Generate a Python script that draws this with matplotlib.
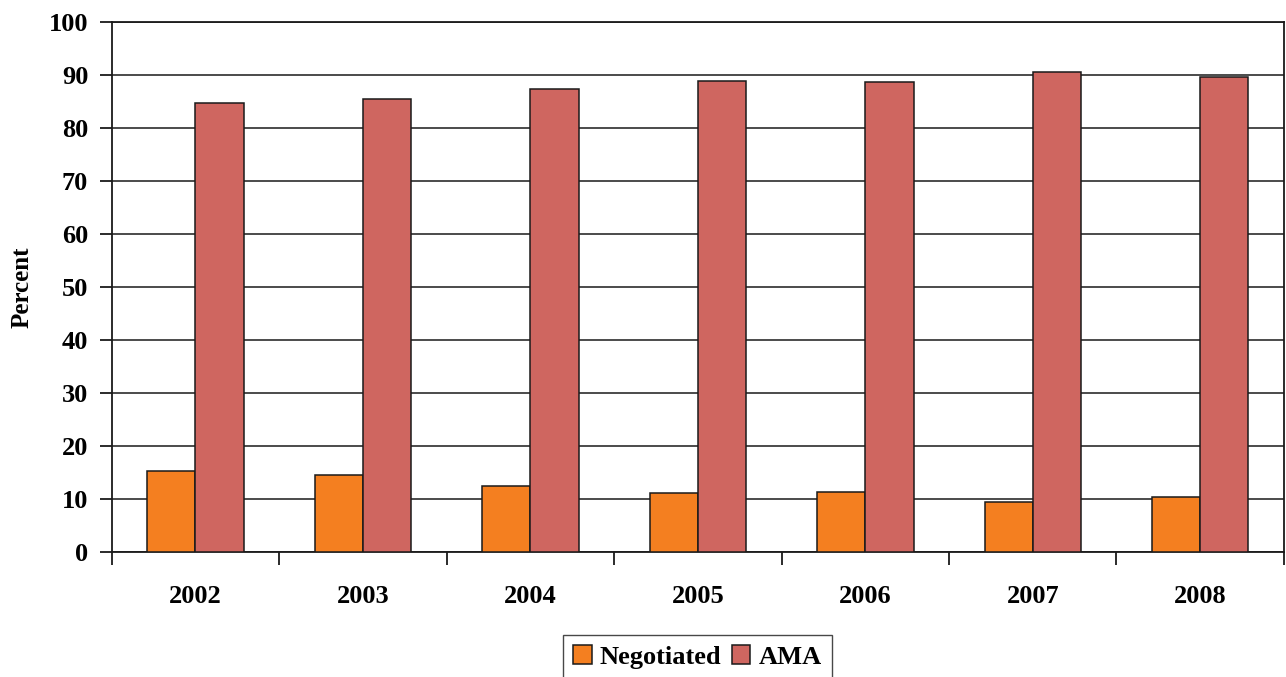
import numpy as np
import matplotlib
matplotlib.use("Agg")
import matplotlib.pyplot as plt
from matplotlib.ticker import FixedLocator

years = ["2002", "2003", "2004", "2005", "2006", "2007", "2008"]
negotiated = [15.3, 14.4, 12.5, 11.0, 11.2, 9.3, 10.3]
ama = [84.7, 85.6, 87.5, 89.0, 88.8, 90.7, 89.7]

plt.rcParams['font.family'] = ['Liberation Serif', 'DejaVu Serif']
plt.rcParams['font.weight'] = 'bold'


def draw_chart(path_out):
   fig = plt.figure(figsize=(12.86, 6.77), dpi=100)
   ax = fig.add_axes([0.0869, 0.1851, 0.9115, 0.7819])

   x = np.arange(len(years))
   width = 0.288
   ax.bar(x - width / 2, negotiated, width, color='#F47F20', edgecolor='#1a1a1a',
          linewidth=1.1, label='Negotiated', zorder=3)
   ax.bar(x + width / 2, ama, width, color='#CF6660', edgecolor='#1a1a1a',
          linewidth=1.1, label='AMA', zorder=3)

   ax.set_xlim(-0.5, len(years) - 0.5)
   ax.set_ylim(0, 100)
   ax.set_yticks(np.arange(0, 101, 10))
   ax.yaxis.grid(True, color='#1a1a1a', linewidth=1.1)
   ax.set_axisbelow(True)

   # year labels in the middle, tick marks on the category borders
   ax.set_xticks(x)
   ax.set_xticklabels(years)
   ax.xaxis.set_minor_locator(FixedLocator(np.arange(-0.5, len(years), 1.0)))
   ax.tick_params(axis='x', which='major', length=0, pad=24, labelsize=19)
   ax.tick_params(axis='x', which='minor', length=9, width=1.3, color='#1a1a1a')
   ax.tick_params(axis='y', length=9, width=1.3, color='#1a1a1a', pad=8, labelsize=19)

   for side in ['left', 'right', 'top', 'bottom']:
      ax.spines[side].set_color('#1a1a1a')
      ax.spines[side].set_linewidth(1.3)

   ax.set_ylabel('Percent', fontsize=18, fontweight='bold', labelpad=11)

   fig.legend(loc='upper center', bbox_to_anchor=(0.5424, 0.0625), ncol=2,
              fontsize=19, frameon=True, fancybox=False, edgecolor='#1a1a1a',
              handlelength=0.7, handleheight=0.7, handletextpad=0.3,
              columnspacing=0.4, borderpad=0.4, borderaxespad=0)

   fig.savefig(path_out, dpi=100)


if __name__ == '__main__':
   draw_chart('out.png')
